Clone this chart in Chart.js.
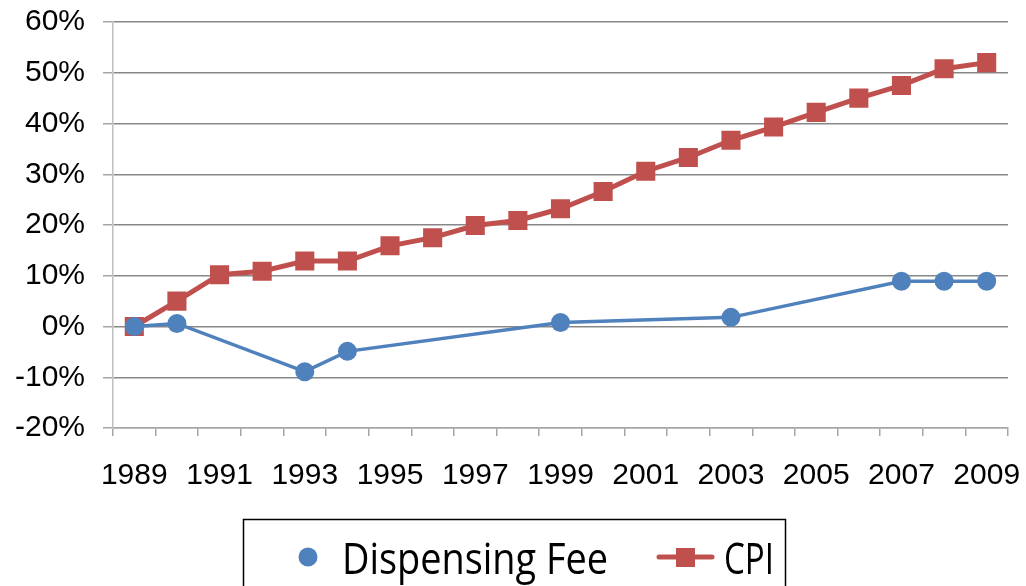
<!DOCTYPE html>
<html>
<head>
<meta charset="utf-8">
<script src="https://cdn.jsdelivr.net/npm/chart.js@4/dist/chart.umd.min.js"></script>
<style>
  html, body { margin: 0; padding: 0; background: #fff; }
  #wrap { width: 1026px; height: 586px; }
</style>
</head>
<body>
<div id="wrap"><canvas id="feechart" width="1026" height="586"></canvas></div>
<script>
// data
let years = ['1989','1990','1991','1992','1993','1994','1995','1996','1997','1998','1999',
             '2000','2001','2002','2003','2004','2005','2006','2007','2008','2009'];
let feeData = [0, 0.6, null, null, -8.9, -4.9, null, null, null, null, 0.8,
               null, null, null, 1.8, null, null, null, 8.9, 8.9, 8.9];
let cpiData = [0, 5, 10.2, 10.9, 12.9, 12.9, 15.9, 17.5, 19.9, 20.9, 23.2,
               26.6, 30.6, 33.3, 36.7, 39.3, 42.2, 45, 47.5, 50.8, 52];
let yTicks = { min: -20, max: 60, step: 10 };

var BLUE = '#4F81BD';
var RED = '#C0504D';

// legend box like the excel one, drawn under the axis
var boxLegend = {
    id: 'boxLegend',
    afterDraw: function(chart) {
        var ctx = chart.ctx;
        var ds = chart.data.datasets;
        ctx.save();
        ctx.strokeStyle = '#000';
        ctx.lineWidth = 1.5;
        ctx.strokeRect(243.5, 519.5, 542, 80);

        // dispensing fee: just the dot
        ctx.fillStyle = ds[0].borderColor;
        ctx.beginPath();
        ctx.arc(308, 557, 9.5, 0, Math.PI * 2);
        ctx.fill();

        // cpi: line with square
        ctx.strokeStyle = ds[1].borderColor;
        ctx.lineWidth = 5;
        ctx.lineCap = 'round';
        ctx.beginPath();
        ctx.moveTo(659, 557);
        ctx.lineTo(712, 557);
        ctx.stroke();
        ctx.fillStyle = ds[1].borderColor;
        ctx.fillRect(676, 548, 19, 19);

        ctx.fillStyle = '#000';
        ctx.font = '43px "Open Sans"';
        ctx.textBaseline = 'alphabetic';
        ctx.fillText(ds[0].label, 342, 574, 266);
        ctx.fillText(ds[1].label, 724, 574, 50);
        ctx.restore();
    }
};

var chart1 = document.getElementById('feechart');
var myChart1 = new Chart(chart1, {
    type: 'line',
    data: {
        labels: years,
        datasets: [{
            label: 'Dispensing Fee',
            data: feeData,
            borderColor: BLUE,
            backgroundColor: BLUE,
            borderWidth: 3.5,
            pointRadius: 9.5,
            pointHoverRadius: 9.5,
            pointBorderWidth: 0,
            spanGaps: true,
            tension: 0
        }, {
            label: 'CPI',
            data: cpiData,
            borderColor: RED,
            backgroundColor: RED,
            borderWidth: 5,
            pointStyle: 'rect',
            pointRadius: 13.5,
            pointHoverRadius: 13.5,
            pointBorderWidth: 0,
            tension: 0
        }]
    },
    options: {
        responsive: false,
        animation: false,
        layout: {
            padding: { left: 0, right: 18, top: 22, bottom: 0 }
        },
        plugins: {
            legend: { display: false },
            tooltip: { enabled: false }
        },
        scales: {
            x: {
                offset: true,
                grid: {
                    offset: true,
                    drawOnChartArea: false,
                    tickLength: 8,
                    tickColor: '#A6A6A6',
                    lineWidth: 1.5
                },
                border: { color: '#A6A6A6', width: 1.5 },
                ticks: {
                    autoSkip: false,
                    maxRotation: 0,
                    padding: 22,
                    color: '#000',
                    font: { family: '"Liberation Sans", Arial', size: 30 },
                    callback: function(val, i) {
                        return i % 2 === 0 ? this.getLabelForValue(val) : '';
                    }
                },
                afterFit: function(scale) {
                    scale.height = 158;
                    scale.paddingLeft = 0;
                    scale.paddingRight = 0;
                }
            },
            y: {
                min: yTicks.min,
                max: yTicks.max,
                grid: {
                    tickLength: 10,
                    lineWidth: 1.5,
                    color: function(c) {
                        return c.tick && c.tick.value === yTicks.min ? '#A6A6A6' : '#878787';
                    },
                    tickColor: '#A6A6A6'
                },
                border: { color: '#BFBFBF', width: 1.5 },
                ticks: {
                    stepSize: yTicks.step,
                    padding: 18,
                    color: '#000',
                    font: { family: '"Liberation Sans", Arial', size: 30 },
                    callback: function(v) { return v + '%'; }
                },
                afterFit: function(scale) {
                    scale.width = 113;
                    scale.paddingTop = 0;
                    scale.paddingBottom = 0;
                }
            }
        }
    },
    plugins: [boxLegend]
});
</script>
</body>
</html>
